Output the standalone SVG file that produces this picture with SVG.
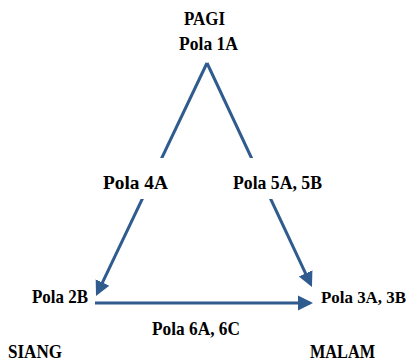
<svg xmlns="http://www.w3.org/2000/svg" width="411" height="364" viewBox="0 0 411 364">
<style>
.t{font-family:"Liberation Serif","Times New Roman",serif;font-weight:bold;font-size:19px;fill:#000}
.e{stroke:#2f5b8e;stroke-width:3;fill:none}
.bg{fill:#fff}
</style>
<defs>
<marker id="ah" viewBox="0 0 10 10" refX="8" refY="5" markerUnits="userSpaceOnUse" markerWidth="15" markerHeight="19" orient="auto">
<path d="M0,0 L10,5 L0,10 z" fill="#2f5b8e"/>
</marker>
</defs>
<g id="connectors">
<path class="e" d="M207,63 L97.3,293.3" marker-end="url(#ah)"/>
<path class="e" d="M207,63 L310.7,284.3" marker-end="url(#ah)"/>
<path class="e" d="M95,303 L310,303" marker-end="url(#ah)"/>
</g>
<g id="pagi"><text class="t" x="184" y="25" textLength="41" lengthAdjust="spacingAndGlyphs">PAGI</text></g>
<g id="pola1a"><text class="t" x="179" y="50" textLength="59" lengthAdjust="spacingAndGlyphs">Pola 1A</text></g>
<g id="pola4a"><rect class="bg" x="100" y="158" width="72" height="41"/><text class="t" x="103" y="189" textLength="65" lengthAdjust="spacingAndGlyphs">Pola 4A</text></g>
<g id="pola5a5b"><rect class="bg" x="230" y="158" width="95" height="41"/><text class="t" x="233" y="189" textLength="89" lengthAdjust="spacingAndGlyphs">Pola 5A, 5B</text></g>
<g id="pola2b"><text class="t" x="32" y="303" textLength="56" lengthAdjust="spacingAndGlyphs">Pola 2B</text></g>
<g id="pola3a3b"><text class="t" x="321" y="303" style="font-size:17.5px" textLength="85" lengthAdjust="spacingAndGlyphs">Pola 3A, 3B</text></g>
<g id="pola6a6c"><text class="t" x="152" y="335" textLength="88" lengthAdjust="spacingAndGlyphs">Pola 6A, 6C</text></g>
<g id="siang"><text class="t" x="8" y="358" textLength="54" lengthAdjust="spacingAndGlyphs">SIANG</text></g>
<g id="malam"><text class="t" x="310" y="358" textLength="65" lengthAdjust="spacingAndGlyphs">MALAM</text></g>
</svg>
